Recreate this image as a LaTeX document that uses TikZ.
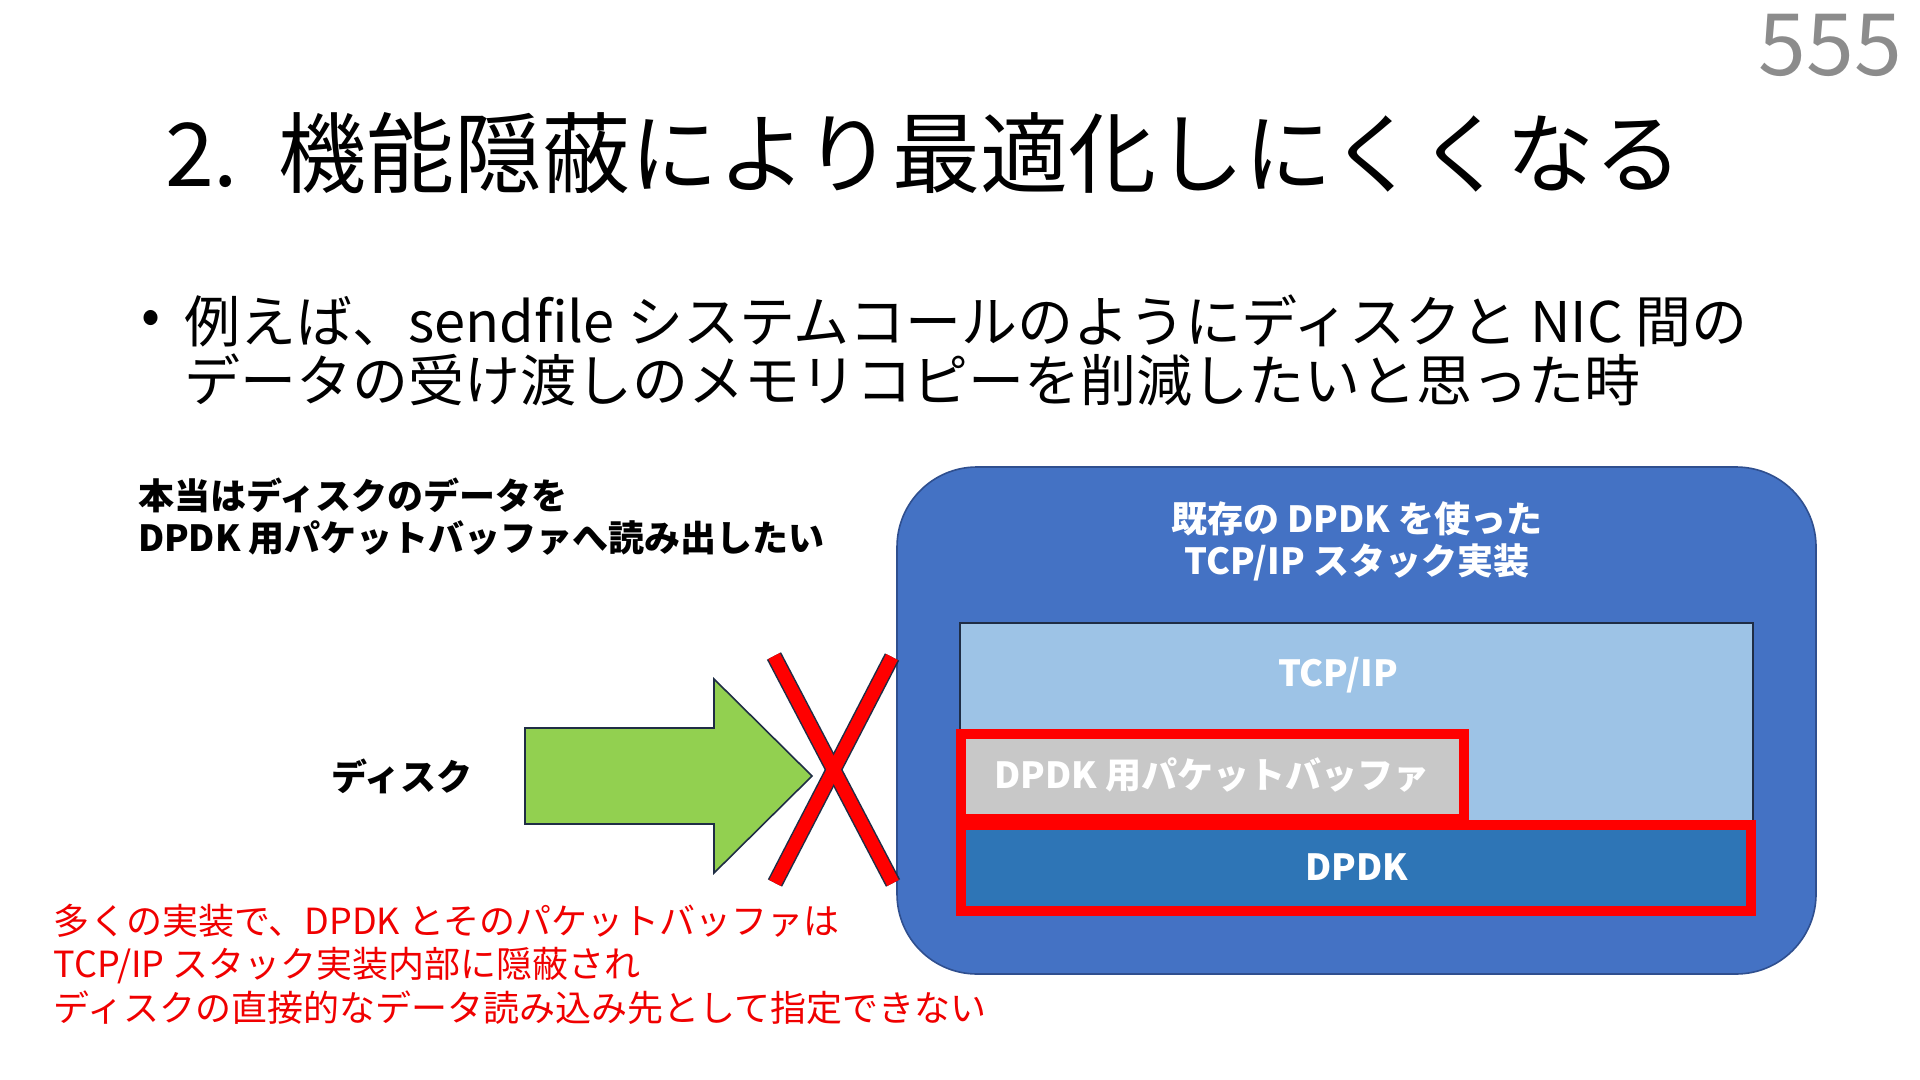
\documentclass[tikz,border=0pt]{standalone}
\usepackage{fontspec}
\setmainfont{Noto Sans CJK JP}
\definecolor{pagegray}{HTML}{8C8C8C}
\definecolor{stackblue}{HTML}{4472C4}
\definecolor{stackedge}{HTML}{2F4F8F}
\definecolor{tcpblue}{HTML}{9DC3E6}
\definecolor{dpdkblue}{HTML}{2E75B6}
\definecolor{bufgray}{HTML}{C8C8C8}
\definecolor{arrowgreen}{HTML}{92D050}
\definecolor{darkedge}{HTML}{1F2D45}
\definecolor{alertred}{HTML}{FF0000}
\definecolor{notered}{HTML}{F00000}
\tikzset{
  txt/.style={inner sep=0pt, outer sep=0pt},
  boldtext/.style={txt, font=\fontsize{18}{21}\selectfont\bfseries, align=left},
  whitetext/.style={txt, font=\fontsize{18}{21}\selectfont\bfseries, text=white, align=center},
  notetext/.style={txt, font=\fontsize{18}{21.75}\selectfont, text=notered, align=left},
  bullettext/.style={txt, font=\fontsize{28}{29.5}\selectfont},
  stackbox/.style={draw=stackedge, line width=0.8pt, fill=stackblue, rounded corners=40pt, inner sep=0pt, outer sep=0pt},
  tcpbox/.style={draw=darkedge, line width=0.7pt, fill=tcpblue, inner sep=0pt, outer sep=0pt},
  redbox/.style={draw=alertred, line width=5pt, inner sep=0pt, outer sep=0pt},
  crossedge/.style={draw=darkedge, line width=8pt},
  crossfill/.style={draw=alertred, line width=6.5pt},
  greenarrow/.style={draw=darkedge, line width=0.8pt, fill=arrowgreen, line join=miter}
}
\begin{document}
\begin{tikzpicture}[x=0.5pt,y=-0.5pt]
\path[use as bounding box, fill=white] (0,0) rectangle (1920,1080);

% page number and title
\node[txt, anchor=base east, text=pagegray, font=\fontsize{43}{43}\selectfont] (pagenum) at (1902,76) {555};
\node[txt, anchor=west, font=\fontsize{44}{46}\selectfont] (title) at (165,153) {2.\hspace{20pt}機能隠蔽により最適化しにくくなる};

% bullet
\node[bullettext] (bul) at (151,322) {•};
\node[bullettext, anchor=west] (line1) at (184,321) {例えば、sendfile システムコールのようにディスクと NIC 間の};
\node[bullettext, anchor=west] (line2) at (184,380) {データの受け渡しのメモリコピーを削減したいと思った時};

% left texts
\node[boldtext, anchor=west] (want) at (138,517) {本当はディスクのデータを\\DPDK 用パケットバッファへ読み出したい};
\node[boldtext] (disk) at (402,776) {ディスク};
\node[notetext, anchor=west] (note) at (54,964) {多くの実装で、DPDK とそのパケットバッファは\\TCP/IP スタック実装内部に隠蔽され\\ディスクの直接的なデータ読み込み先として指定できない};

% green arrow
\draw[greenarrow] (525,728) -- (714,728) -- (714,679) -- (812,776) -- (714,873) -- (714,824) -- (525,824) -- cycle;

% stack box
\node[stackbox, minimum width=459.5pt, minimum height=253.5pt] (stack) at (1356.5,720.5) {};
\node[whitetext] (stacklabel) at (1357,541) {既存の DPDK を使った\\TCP/IP スタック実装};
\node[tcpbox, minimum width=396.5pt, minimum height=100pt] (tcp) at (1356.5,723) {};
\node[whitetext] (tcplabel) at (1338,675) {TCP/IP};
\node[redbox, fill=dpdkblue, minimum width=395pt, minimum height=43pt] (dpdk) at (1356,868) {};
\node[whitetext] (dpdklabel) at (1357,867) {DPDK};
\node[redbox, fill=bufgray, minimum width=251.5pt, minimum height=42.5pt] (buf) at (1212.5,776.5) {};
\node[whitetext] (buflabel) at (1212,775) {DPDK 用パケットバッファ};

% red cross
\coordinate (xa1) at (774,656);
\coordinate (xa2) at (893,883);
\coordinate (xb1) at (892,657);
\coordinate (xb2) at (775,883);
\draw[crossedge] (xa1) -- (xa2);
\draw[crossedge] (xb1) -- (xb2);
\draw[crossfill] (xa1) -- (xa2);
\draw[crossfill] (xb1) -- (xb2);
\end{tikzpicture}
\end{document}
